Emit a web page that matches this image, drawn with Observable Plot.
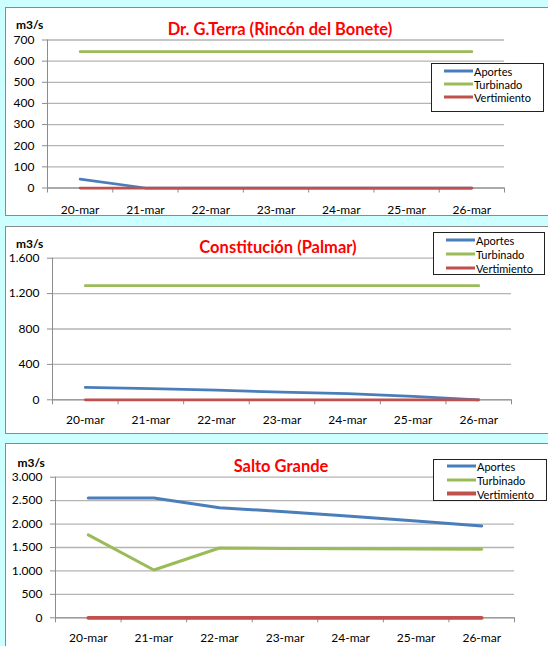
<!DOCTYPE html>
<html><head><meta charset="utf-8">
<script src="https://cdn.jsdelivr.net/npm/d3@7"></script>
<script src="https://cdn.jsdelivr.net/npm/@observablehq/plot@0.6"></script>
<style>
html,body{margin:0;padding:0;}
body{background:#ccffff;width:548px;height:646px;overflow:hidden;position:relative;font-family:Lato,"Open Sans",sans-serif;}
.panel{position:absolute;left:5px;width:560px;background:#fff;border:1px solid #8a8a8a;box-sizing:border-box;}
.plot{position:absolute;left:0;}
.title{position:absolute;color:#ff0000;font-weight:bold;font-size:16.5px;transform:translate(-50%,-50%);white-space:nowrap;}
.unit{position:absolute;font-weight:bold;font-size:12px;transform:translateY(-50%);white-space:nowrap;}
.legend{position:absolute;border:1px solid #222;background:#fff;box-sizing:border-box;font-size:11px;}
.row{position:absolute;display:flex;align-items:center;transform:translateY(-50%);white-space:nowrap;}
.sw{width:29px;margin-right:1px;}
</style></head><body>
<script>
const dates = ["20-mar","21-mar","22-mar","23-mar","24-mar","25-mar","26-mar"];
const seriesNames = ["Aportes","Turbinado","Vertimiento"];
const seriesColors = ["#4a7ebb","#9bbb59","#c0504d"];

const terraTitle = "Dr. G.Terra (Rincón del Bonete)";
const terraAportes = [42,0,0,0,0,0,0];
const terraTurbinado = [645,645,645,645,645,645,645];
const terraVertimiento = [0,0,0,0,0,0,0];
const terraTicks = [0,100,200,300,400,500,600,700];

const palmarTitle = "Constitución (Palmar)";
const palmarAportes = [140,125,108,88,70,38,0];
const palmarTurbinado = [1290,1290,1290,1290,1290,1290,1290];
const palmarVertimiento = [0,0,0,0,0,0,0];
const palmarTicks = [0,400,800,1200,1600];

const saltoTitle = "Salto Grande";
const saltoAportes = [2555,2555,2350,2265,2165,2065,1960];
const saltoTurbinado = [1770,1020,1490,1480,1475,1470,1465];
const saltoVertimiento = [0,0,0,0,0,0,0];
const saltoTicks = [0,500,1000,1500,2000,2500,3000];

const unitLabel = "m3/s";
const fmt = d => d3.format(",")(d).replace(/,/g, ".");

function panel(cfg) {
  const p = document.createElement("div");
  p.className = "panel";
  p.style.top = cfg.top + "px";
  p.style.height = cfg.ph + "px";
  document.body.appendChild(p);

  const idx = dates.map((d, i) => i);
  const between = idx.map(i => i - 0.5).concat([dates.length - 0.5]);
  const yt = cfg.ticks;
  const ymax = yt[yt.length - 1];
  const svg = Plot.plot({
    width: 548, height: cfg.h,
    marginLeft: cfg.ml, marginRight: cfg.mr, marginTop: cfg.mt, marginBottom: cfg.mb,
    style: {fontFamily: "Lato, sans-serif", fontSize: "12px", color: "#000", background: "transparent", overflow: "visible"},
    x: {domain: [-0.5, dates.length - 0.5]},
    y: {domain: [0, ymax]},
    marks: [
      Plot.ruleY(yt, {stroke: "#b4b4b4", strokeWidth: 1.3}),
      Plot.ruleY([0], {stroke: "#8c8c8c", strokeWidth: 1}),
      Plot.ruleX([-0.5], {stroke: "#8c8c8c", strokeWidth: 1}),
      Plot.axisY({ticks: yt, tickSize: 5, tickPadding: 8, tickFormat: fmt, stroke: "#8c8c8c", label: null}),
      Plot.axisX({ticks: between, tickSize: 5, tickFormat: () => "", stroke: "#8c8c8c", label: null}),
      Plot.axisX({ticks: idx, tickSize: 0, tickPadding: cfg.xpad, tickFormat: i => dates[i], label: null}),
      ...cfg.series.map((vals, k) => Plot.line(vals, {x: (d, i) => i, y: d => d, stroke: seriesColors[k], strokeWidth: cfg.widths[k]}))
    ]
  });
  svg.classList.add("plot");
  svg.style.top = cfg.top + "px";
  document.body.appendChild(svg);

  const t = document.createElement("div");
  t.className = "title";
  t.textContent = cfg.title;
  t.style.left = cfg.tx + "px";
  t.style.top = cfg.ty + "px";
  document.body.appendChild(t);

  const u = document.createElement("div");
  u.className = "unit";
  u.textContent = unitLabel;
  u.style.left = cfg.ux + "px";
  u.style.top = cfg.uy + "px";
  document.body.appendChild(u);

  const lg = document.createElement("div");
  lg.className = "legend";
  Object.assign(lg.style, {left: cfg.lg[0] + "px", top: cfg.lg[1] + "px", width: cfg.lg[2] + "px", height: cfg.lg[3] + "px"});
  seriesNames.forEach((n, k) => {
    const r = document.createElement("div");
    r.className = "row";
    r.style.left = cfg.lsx + "px";
    r.style.top = cfg.lrows[k] + "px";
    const sw = document.createElement("div");
    sw.className = "sw";
    sw.style.background = seriesColors[k];
    sw.style.height = cfg.lw[k] + "px";
    const tx = document.createElement("span");
    tx.textContent = n;
    r.appendChild(sw); r.appendChild(tx);
    lg.appendChild(r);
  });
  document.body.appendChild(lg);
}

panel({top: 7, ph: 209, h: 209, ml: 47, mr: 44, mt: 32.5, mb: 28.5, xpad: 17,
  ticks: terraTicks, series: [terraAportes, terraTurbinado, terraVertimiento], widths: [2.75, 2.75, 2.75],
  title: terraTitle, tx: 280, ty: 29, ux: 16, uy: 24,
  lg: [431, 63, 113, 49], lsx: 12, lrows: [6.5, 20, 33.3], lw: [3, 3, 3]});

panel({top: 226, ph: 208, h: 208, ml: 52, mr: 37, mt: 31.7, mb: 34.7, xpad: 16,
  ticks: palmarTicks, series: [palmarAportes, palmarTurbinado, palmarVertimiento], widths: [2.75, 2.75, 2.75],
  title: palmarTitle, tx: 278, ty: 247, ux: 16, uy: 242.7,
  lg: [433, 232, 112, 43], lsx: 12, lrows: [6.5, 20.5, 34.5], lw: [3, 3, 3]});

panel({top: 443, ph: 215, h: 203, ml: 55, mr: 34, mt: 33.7, mb: 28.7, xpad: 16,
  ticks: saltoTicks, series: [saltoAportes, saltoTurbinado, saltoVertimiento], widths: [3, 3, 3.75],
  title: saltoTitle, tx: 281, ty: 465.7, ux: 17.5, uy: 462.3,
  lg: [433, 459, 114, 42], lsx: 13, lrows: [6, 20, 33.5], lw: [3, 3, 3.5]});
</script>
</body></html>
